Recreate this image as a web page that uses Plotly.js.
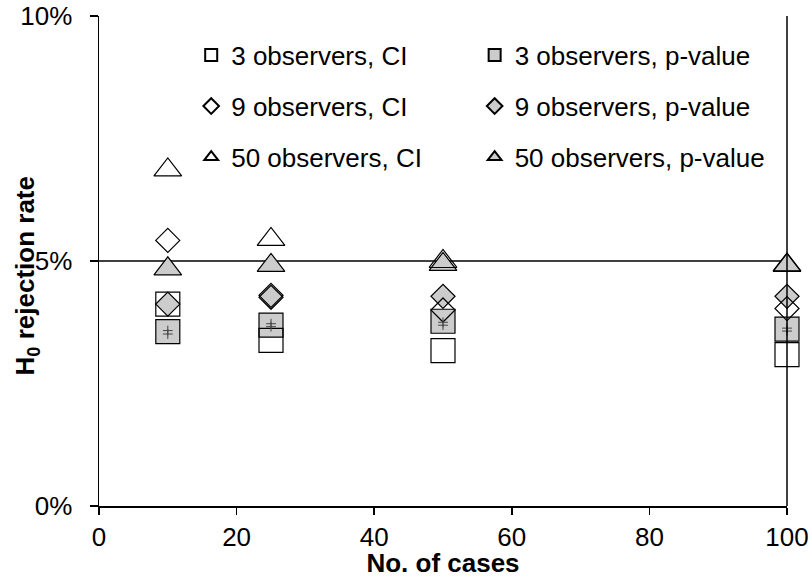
<!DOCTYPE html>
<html>
<head>
<meta charset="utf-8">
<script src="https://cdn.plot.ly/plotly-3.0.1.min.js"></script>
<style>html,body{margin:0;padding:0;background:#fff;}#chart{width:810px;height:578px;}</style>
</head>
<body>
<div id="chart"></div>
<script>
// Data (rejection rate in %)
const cases = [10, 25, 50, 100];
const ci3 = [4.12, 3.38, 3.17, 3.09];
const p3 = [3.56, 3.69, 3.77, 3.61];
const ci9 = [5.42, 4.30, 4.00, 4.03];
const p9 = [4.12, 4.26, 4.28, 4.28];
const ci50 = [6.86, 5.44, 4.99, 4.92];
const p50 = [4.84, 4.91, 4.93, 4.91];
const markHi = [3.58, 3.72, 3.75, 3.63];
const markLo = [3.51, 3.66, 3.69, 3.57];
const seriesNames = ['3 observers, CI', '3 observers, p-value', '9 observers, CI', '9 observers, p-value', '50 observers, CI', '50 observers, p-value'];
const yTickVals = [0, 5, 10];
const yTickText = ['0%', '5%', '10%'];
const xTickVals = [0, 20, 40, 60, 80, 100];
const refLevel = 5;
const xTitle = 'No. of cases';
const yTitle = 'H<sub>0</sub> rejection rate';

const FONT = 'Liberation Sans, Arial, sans-serif';
const FS = 26;
const gray = '#cccccc';

function filled(name, y, symbol, size, leg) {
  return {type: 'scatter', mode: 'markers', x: cases, y: y, name: name, legend: leg, cliponaxis: false,
    marker: {symbol: symbol, size: size, color: gray, line: {color: '#000', width: 1.2}}};
}
function open(name, y, symbol, size, leg) {
  return {type: 'scatter', mode: 'markers', x: cases, y: y, name: name, legend: leg, cliponaxis: false,
    marker: {symbol: symbol + '-open', size: size, color: '#000', line: {color: '#000', width: 1.2}}};
}
function cross(y) {
  return {type: 'scatter', mode: 'markers', x: cases, y: y, showlegend: false, cliponaxis: false, hoverinfo: 'skip',
    marker: {symbol: 'cross-thin', size: 7, color: '#444', line: {color: '#444', width: 1}}};
}

const traces = [
  filled(seriesNames[1], p3, 'square', 24, 'legend2'),
  filled(seriesNames[3], p9, 'diamond', 18.5, 'legend4'),
  filled(seriesNames[5], p50, 'triangle-up', 24, 'legend6'),
  open(seriesNames[0], ci3, 'square', 24, 'legend'),
  open(seriesNames[2], ci9, 'diamond', 18.5, 'legend3'),
  open(seriesNames[4], ci50, 'triangle-up', 24, 'legend5'),
  cross(markHi),
  cross(markLo)
];

const legFont = {family: FONT, size: FS, color: '#000'};
function leg(x, y) {
  return {x: x, y: y, xanchor: 'left', yanchor: 'middle', bgcolor: 'rgba(0,0,0,0)', borderwidth: 0,
    font: legFont, itemsizing: 'constant', itemwidth: 30};
}
const c1 = 0.134, c2 = 0.546, r1 = 0.920, r2 = 0.816, r3 = 0.712;

const layout = {
  width: 810, height: 578,
  margin: {l: 99, r: 23, t: 16, b: 72},
  paper_bgcolor: '#fff', plot_bgcolor: '#fff',
  font: {family: FONT, size: FS, color: '#000'},
  showlegend: true,
  legend: leg(c1, r1), legend2: leg(c2, r1),
  legend3: leg(c1, r2), legend4: leg(c2, r2),
  legend5: leg(c1, r3), legend6: leg(c2, r3),
  xaxis: {range: [0, 100], tickmode: 'array', tickvals: xTickVals, ticks: 'outside', ticklen: 7, tickwidth: 1.5, tickcolor: '#000',
    showline: true, linecolor: '#000', linewidth: 1.5, showgrid: false, zeroline: false,
    tickfont: {family: FONT, size: FS, color: '#000'},
    title: {text: xTitle, font: {family: FONT, size: FS, color: '#000', weight: 'bold'}, standoff: 0}},
  yaxis: {range: [0, 10], tickmode: 'array', tickvals: yTickVals, ticktext: yTickText, ticks: 'outside', ticklen: 8, tickwidth: 1.5, tickcolor: '#000',
    ticklabelstandoff: 12,
    showline: true, linecolor: '#000', linewidth: 1.5, showgrid: false, zeroline: false,
    tickfont: {family: FONT, size: FS, color: '#000'}},
  annotations: [
    {text: yTitle, xref: 'paper', yref: 'paper', x: -0.105, y: 0.47, xanchor: 'center', yanchor: 'middle',
     textangle: -90, showarrow: false, font: {family: FONT, size: FS, color: '#000', weight: 'bold'}}
  ],
  shapes: [
    {type: 'line', xref: 'paper', yref: 'y', x0: 0, x1: 1, y0: refLevel, y1: refLevel, line: {color: '#000', width: 1.5}, layer: 'below'},
    {type: 'line', xref: 'paper', yref: 'paper', x0: 1, x1: 1, y0: 0, y1: 1, line: {color: '#000', width: 1.5}, layer: 'above'}
  ]
};

Plotly.newPlot('chart', traces, layout, {displayModeBar: false, staticPlot: true});
</script>
</body>
</html>
